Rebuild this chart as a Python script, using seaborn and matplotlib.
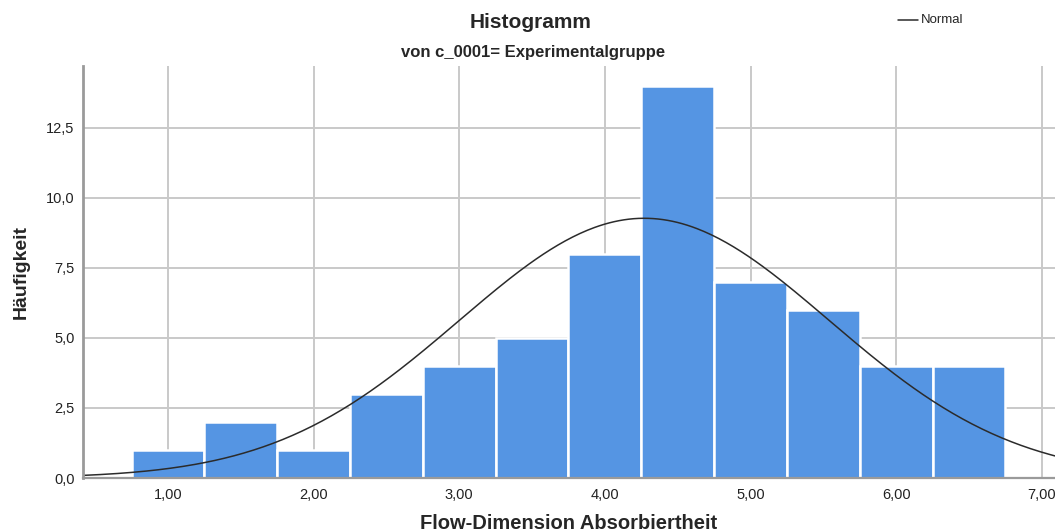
import numpy as np
import pandas as pd
import matplotlib
matplotlib.use("Agg")
import matplotlib.pyplot as plt
import seaborn as sns
from matplotlib.ticker import FuncFormatter

# Histogram bins (class midpoints) and their frequencies
bin_centers = [1.0, 1.5, 2.0, 2.5, 3.0, 3.5, 4.0, 4.5, 5.0, 5.5, 6.0, 6.5]
frequencies = [1, 2, 1, 3, 4, 5, 8, 14, 7, 6, 4, 4]
bin_width = 0.5

# Parameters of the fitted normal curve
normal_mean = 4.27
normal_sd = 1.27

x_ticks = [1, 2, 3, 4, 5, 6, 7]
y_ticks = [0, 2.5, 5.0, 7.5, 10.0, 12.5]

sns.set_style("white")
plt.rcParams["font.family"] = ["Liberation Sans", "DejaVu Sans"]

df = pd.DataFrame({"value": bin_centers, "count": frequencies})
edges = [c - bin_width / 2 for c in bin_centers] + [bin_centers[-1] + bin_width / 2]

fig = plt.figure(figsize=(10.55, 5.32), dpi=100)
ax = fig.add_axes([83 / 1055, 54 / 532, 1 - 83 / 1055, (478 - 66) / 532])

# grid behind the bars
ax.set_axisbelow(True)
ax.grid(True, color="#c9c9c9", linewidth=1.4)

sns.histplot(data=df, x="value", weights="count", bins=edges,
             color="#5595e3", alpha=1.0, edgecolor="white", linewidth=1.8,
             ax=ax)

# normal curve scaled to the histogram counts
n = sum(frequencies)
xs = np.linspace(0.417, 7.09, 400)
ys = n * bin_width * np.exp(-0.5 * ((xs - normal_mean) / normal_sd) ** 2) / (normal_sd * np.sqrt(2 * np.pi))
sns.lineplot(x=xs, y=ys, color="#2b2b2b", linewidth=1.1, ax=ax)

ax.set_xlim(0.417, 7.09)
ax.set_ylim(0, 14.7)
ax.set_xticks(x_ticks)
ax.set_yticks(y_ticks)

for side in ["top", "right"]:
    ax.spines[side].set_visible(False)
ax.spines["left"].set_color("#9a9a9a")
ax.spines["left"].set_linewidth(2.0)
ax.spines["bottom"].set_color("#9a9a9a")
ax.spines["bottom"].set_linewidth(1.6)

ax.xaxis.set_major_formatter(FuncFormatter(lambda v, p: f"{v:.2f}".replace(".", ",")))
ax.yaxis.set_major_formatter(FuncFormatter(lambda v, p: f"{v:.1f}".replace(".", ",")))
ax.tick_params(axis="both", length=0, labelsize=10.5, colors="#222222")
ax.tick_params(axis="x", pad=7)
ax.tick_params(axis="y", pad=6)

ax.set_xlabel("Flow-Dimension Absorbiertheit", fontsize=14.5, fontweight="bold",
              labelpad=9)
ax.set_ylabel("Häufigkeit", fontsize=14, fontweight="bold", labelpad=12)

fig.text(531 / 1055, 1 - 22 / 532, "Histogramm", ha="center", va="center",
         fontsize=15, fontweight="bold")
fig.text(533 / 1055, 1 - 53 / 532, "von c_0001= Experimentalgruppe", ha="center",
         va="center", fontsize=12, fontweight="bold")

# legend entry for the normal curve
fig.add_artist(plt.Line2D([898 / 1055, 918 / 1055], [1 - 20 / 532, 1 - 20 / 532],
                          color="#2b2b2b", linewidth=1.1))
fig.text(921 / 1055, 1 - 20 / 532, "Normal", ha="left", va="center", fontsize=9.5)

fig.savefig("out.png", dpi=100)
